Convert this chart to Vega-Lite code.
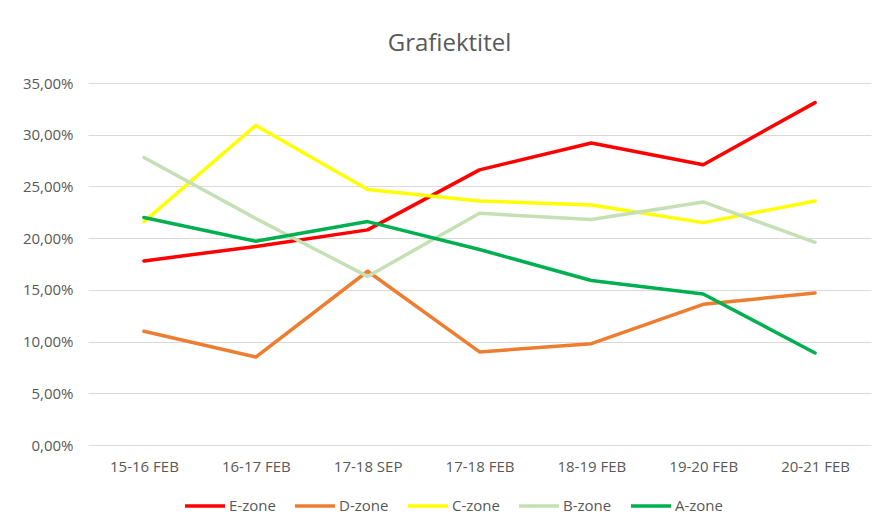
{
  "$schema": "https://vega.github.io/schema/vega-lite/v6.json",
  "width": 783,
  "height": 362,
  "autosize": {"type": "none"},
  "padding": {"left": 88, "top": 83, "right": 11, "bottom": 80},
  "background": "white",
  "title": {
    "text": "Grafiektitel",
    "font": "Open Sans",
    "fontSize": 24,
    "fontWeight": "normal",
    "color": "#595959",
    "anchor": "middle",
    "frame": "group",
    "dx": -30,
    "offset": 20
  },
  "data": {
    "values": [
      {"period": "15-16 FEB", "zone": "E-zone", "value": 0.178},
      {"period": "16-17 FEB", "zone": "E-zone", "value": 0.192},
      {"period": "17-18 SEP", "zone": "E-zone", "value": 0.208},
      {"period": "17-18 FEB", "zone": "E-zone", "value": 0.266},
      {"period": "18-19 FEB", "zone": "E-zone", "value": 0.292},
      {"period": "19-20 FEB", "zone": "E-zone", "value": 0.271},
      {"period": "20-21 FEB", "zone": "E-zone", "value": 0.331},
      {"period": "15-16 FEB", "zone": "D-zone", "value": 0.110},
      {"period": "16-17 FEB", "zone": "D-zone", "value": 0.085},
      {"period": "17-18 SEP", "zone": "D-zone", "value": 0.168},
      {"period": "17-18 FEB", "zone": "D-zone", "value": 0.090},
      {"period": "18-19 FEB", "zone": "D-zone", "value": 0.098},
      {"period": "19-20 FEB", "zone": "D-zone", "value": 0.136},
      {"period": "20-21 FEB", "zone": "D-zone", "value": 0.147},
      {"period": "15-16 FEB", "zone": "C-zone", "value": 0.216},
      {"period": "16-17 FEB", "zone": "C-zone", "value": 0.309},
      {"period": "17-18 SEP", "zone": "C-zone", "value": 0.247},
      {"period": "17-18 FEB", "zone": "C-zone", "value": 0.236},
      {"period": "18-19 FEB", "zone": "C-zone", "value": 0.232},
      {"period": "19-20 FEB", "zone": "C-zone", "value": 0.215},
      {"period": "20-21 FEB", "zone": "C-zone", "value": 0.236},
      {"period": "15-16 FEB", "zone": "B-zone", "value": 0.278},
      {"period": "16-17 FEB", "zone": "B-zone", "value": 0.219},
      {"period": "17-18 SEP", "zone": "B-zone", "value": 0.163},
      {"period": "17-18 FEB", "zone": "B-zone", "value": 0.224},
      {"period": "18-19 FEB", "zone": "B-zone", "value": 0.218},
      {"period": "19-20 FEB", "zone": "B-zone", "value": 0.235},
      {"period": "20-21 FEB", "zone": "B-zone", "value": 0.196},
      {"period": "15-16 FEB", "zone": "A-zone", "value": 0.220},
      {"period": "16-17 FEB", "zone": "A-zone", "value": 0.197},
      {"period": "17-18 SEP", "zone": "A-zone", "value": 0.216},
      {"period": "17-18 FEB", "zone": "A-zone", "value": 0.189},
      {"period": "18-19 FEB", "zone": "A-zone", "value": 0.159},
      {"period": "19-20 FEB", "zone": "A-zone", "value": 0.146},
      {"period": "20-21 FEB", "zone": "A-zone", "value": 0.089}
    ]
  },
  "mark": {"type": "line", "strokeWidth": 3.5, "strokeCap": "round", "strokeJoin": "round"},
  "encoding": {
    "x": {
      "field": "period",
      "type": "nominal",
      "sort": null,
      "scale": {"type": "point", "padding": 0.5},
      "axis": {
        "title": null,
        "labelAngle": 0,
        "ticks": false,
        "tickSize": 0,
        "domain": false,
        "grid": false,
        "labelFont": "Open Sans",
        "labelFontSize": 15,
        "labelColor": "#595959",
        "labelBaseline": "alphabetic",
        "labelPadding": 26
      }
    },
    "y": {
      "field": "value",
      "type": "quantitative",
      "scale": {"domain": [0, 0.35], "nice": false, "zero": true},
      "axis": {
        "title": null,
        "values": [0, 0.05, 0.1, 0.15, 0.2, 0.25, 0.3, 0.35],
        "labelExpr": "replace(format(datum.value, '.2%'), '.', ',')",
        "ticks": false,
        "tickSize": 0,
        "domain": false,
        "grid": true,
        "gridColor": "#D9D9D9",
        "gridWidth": 1,
        "labelFont": "Open Sans",
        "labelFontSize": 15,
        "labelColor": "#595959",
        "labelPadding": 15
      }
    },
    "color": {
      "field": "zone",
      "type": "nominal",
      "sort": ["E-zone", "D-zone", "C-zone", "B-zone", "A-zone"],
      "scale": {
        "domain": ["E-zone", "D-zone", "C-zone", "B-zone", "A-zone"],
        "range": ["#FF0000", "#ED7D31", "#FFFF00", "#C5E0B4", "#00B050"]
      },
      "legend": {
        "title": null,
        "orient": "none",
        "direction": "horizontal",
        "legendX": 95,
        "legendY": 401,
        "padding": 0,
        "symbolType": "stroke",
        "symbolSize": 1600,
        "symbolStrokeWidth": 3.5,
        "labelFont": "Open Sans",
        "labelFontSize": 15,
        "labelColor": "#595959",
        "labelOffset": 2,
        "columnPadding": 12
      }
    }
  },
  "config": {
    "view": {"stroke": null}
  }
}
